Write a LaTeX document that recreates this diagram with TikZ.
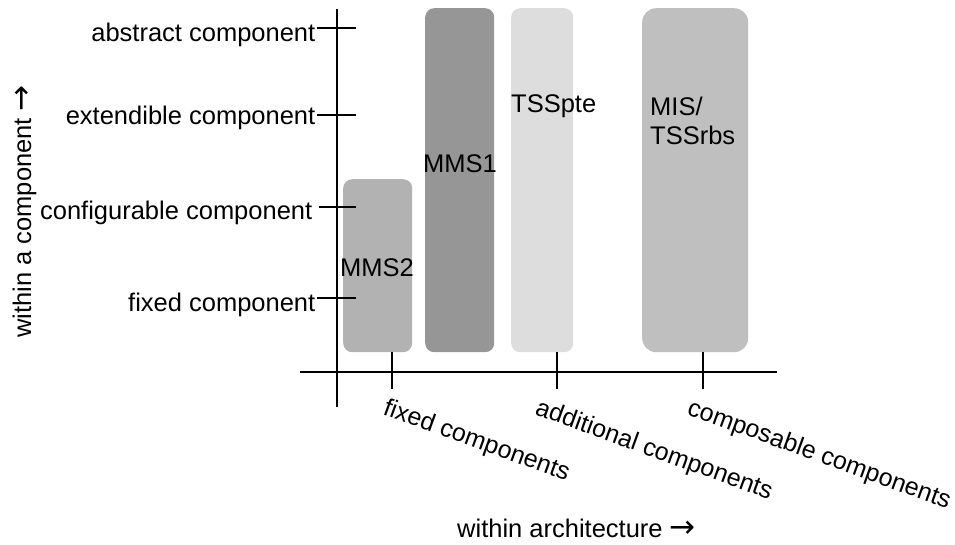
\documentclass[tikz,border=0pt]{standalone}
\usepackage{fontspec}
\setmainfont{Liberation Sans}
\newfontfamily\arrowfont{DejaVu Sans}
\newcommand{\rarr}{{\arrowfont\fontsize{31}{29}\selectfont →}}
\definecolor{barA}{HTML}{B2B2B2}
\definecolor{barB}{HTML}{969696}
\definecolor{barC}{HTML}{DDDDDD}
\definecolor{barD}{HTML}{BFBFBF}
\begin{document}
\begin{tikzpicture}[x=1pt,y=-1pt,
  lbl/.style={inner sep=0pt, font=\fontsize{25.5}{29}\selectfont},
  slant/.style={lbl, font=\fontsize{25}{29}\selectfont, rotate=-20, anchor=base west},
  axisline/.style={line width=1.2pt, black},
  bar/.style={draw=none, rounded corners=9pt, inner sep=0pt, anchor=north west},
  ytick/.style={axisline},
  xtick/.style={axisline}]
\useasboundingbox (0,0) rectangle (955,544);

% bars
\node[bar, fill=barA, minimum width=69pt, minimum height=173pt] (mms2) at (343,179) {};
\node[bar, fill=barB, minimum width=69pt, minimum height=344pt] (mms1) at (425,8) {};
\node[bar, fill=barC, minimum width=62pt, minimum height=344pt] (tsspte) at (511,8) {};
\node[bar, fill=barD, minimum width=106pt, minimum height=344pt, rounded corners=14pt] (mis) at (642,8) {};

% bar labels
\node[lbl, anchor=base west] (lmms2) at (340,276) {MMS2};
\node[lbl, anchor=base west] (lmms1) at (423,172) {MMS1};
\node[lbl, anchor=base west] (ltsspte) at (511,112) {TSSpte};
\node[lbl, anchor=base west, align=left] (lmis) at (650,144) {MIS/\\TSSrbs};

% axes
\coordinate (ytop) at (337,9);
\coordinate (ybot) at (337,407);
\coordinate (xleft) at (300,372);
\coordinate (xright) at (777,372);
\draw[axisline] (ytop) -- (ybot);
\draw[axisline] (xleft) -- (xright);

% ticks on the vertical axis
\foreach \n/\y/\x in {t1/28/317, t2/115/317, t3/207/319, t4/298/317}{
  \coordinate (\n a) at (\x,\y);
  \coordinate (\n b) at (356,\y);
  \draw[ytick] (\n a) -- (\n b);
}
% ticks on the horizontal axis
\foreach \n/\x in {u1/392, u2/557, u3/703}{
  \coordinate (\n a) at (\x,352);
  \coordinate (\n b) at (\x,389);
  \draw[xtick] (\n a) -- (\n b);
}

% vertical axis labels
\node[lbl, anchor=base east] (yabs) at (315.5,41) {abstract component};
\node[lbl, anchor=base east] (yext) at (315.5,124) {extendible component};
\node[lbl, anchor=base east] (ycfg) at (312.5,219) {configurable component};
\node[lbl, anchor=base east] (yfix) at (315.5,311) {fixed component};

% horizontal axis labels
\node[slant] (xfix) at (382,414) {fixed components};
\node[slant] (xadd) at (534,414) {additional components};
\node[slant] (xcmp) at (686,414) {composable components};

% axis titles
\node[lbl, anchor=base west] (xtitle) at (457,537) {within architecture \rarr};
\node[lbl, rotate=90, anchor=base west] (ytitle) at (31,338) {within a component \rarr};
\end{tikzpicture}
\end{document}
